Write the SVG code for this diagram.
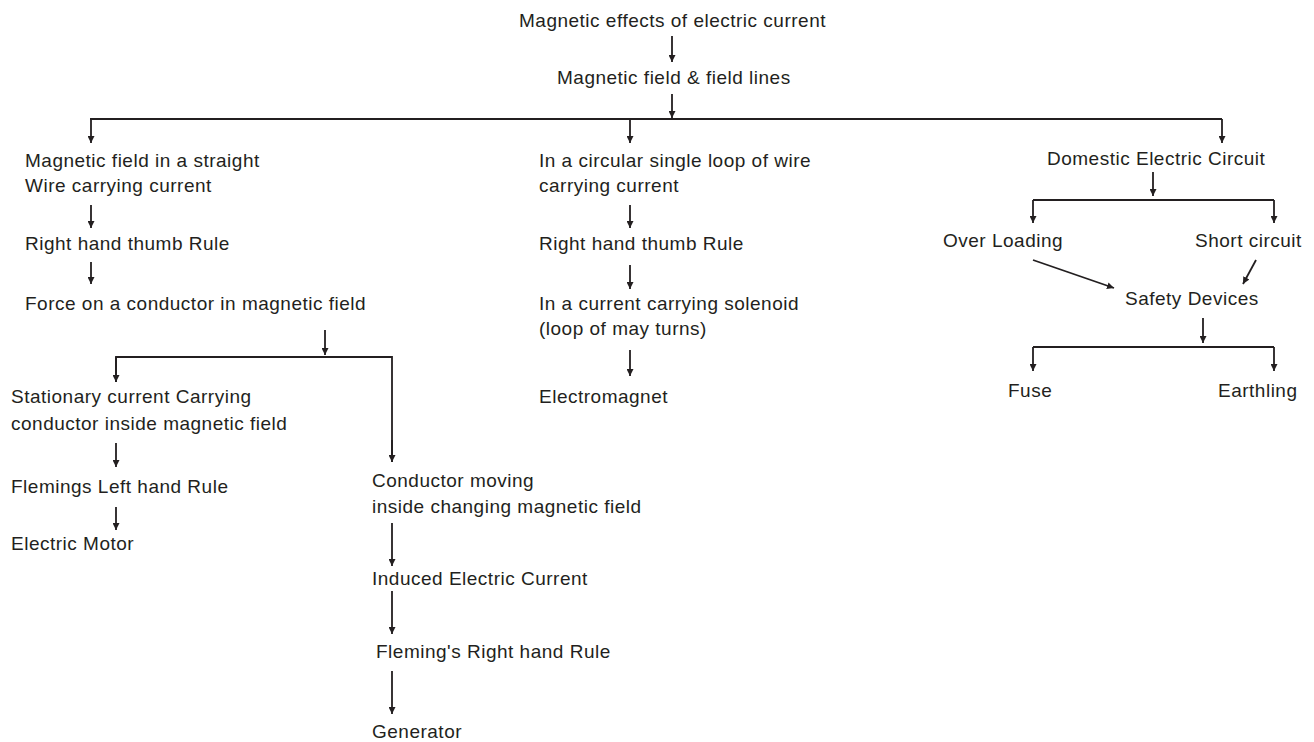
<svg xmlns="http://www.w3.org/2000/svg" width="1314" height="742" viewBox="0 0 1314 742">
<defs>
<style>
text{font-family:"Liberation Sans",Arial,sans-serif;font-size:19px;letter-spacing:0.5px;fill:#231f20}
.c line,.c path{stroke:#231f20;stroke-width:1.8;fill:none}
</style>
<marker id="ah" markerWidth="7" markerHeight="7" refX="7" refY="3.5" orient="auto" markerUnits="userSpaceOnUse">
<path d="M0,0 L7,3.5 L0,7 z" fill="#231f20"/>
</marker>
</defs>
<rect width="1314" height="742" fill="#ffffff"/>
<g class="c" id="connectors">
<line x1="672" y1="36" x2="672" y2="62" marker-end="url(#ah)"/>
<line x1="672" y1="94" x2="672" y2="118" marker-end="url(#ah)"/>
<line x1="90" y1="119" x2="1222" y2="119"/>
<line x1="91" y1="119" x2="91" y2="143" marker-end="url(#ah)"/>
<line x1="630" y1="119" x2="630" y2="143" marker-end="url(#ah)"/>
<line x1="1222" y1="119" x2="1222" y2="143" marker-end="url(#ah)"/>
<line x1="91" y1="205" x2="91" y2="228" marker-end="url(#ah)"/>
<line x1="91" y1="262" x2="91" y2="284" marker-end="url(#ah)"/>
<line x1="325" y1="330" x2="325" y2="355" marker-end="url(#ah)"/>
<path d="M116,382 V357 H392 V462" />
<line x1="116" y1="357" x2="116" y2="382" marker-end="url(#ah)"/>
<line x1="392" y1="440" x2="392" y2="462" marker-end="url(#ah)"/>
<line x1="116" y1="443" x2="116" y2="467" marker-end="url(#ah)"/>
<line x1="116" y1="507" x2="116" y2="530" marker-end="url(#ah)"/>
<line x1="392" y1="523" x2="392" y2="566" marker-end="url(#ah)"/>
<line x1="392" y1="591" x2="392" y2="634" marker-end="url(#ah)"/>
<line x1="392" y1="671" x2="392" y2="714" marker-end="url(#ah)"/>
<line x1="630" y1="205" x2="630" y2="228" marker-end="url(#ah)"/>
<line x1="630" y1="265" x2="630" y2="289" marker-end="url(#ah)"/>
<line x1="630" y1="350" x2="630" y2="376" marker-end="url(#ah)"/>
<line x1="1153" y1="172" x2="1153" y2="196" marker-end="url(#ah)"/>
<line x1="1033" y1="200" x2="1274" y2="200"/>
<line x1="1033" y1="200" x2="1033" y2="223" marker-end="url(#ah)"/>
<line x1="1274" y1="200" x2="1274" y2="223" marker-end="url(#ah)"/>
<line x1="1033" y1="260" x2="1114" y2="288" marker-end="url(#ah)"/>
<line x1="1256" y1="260" x2="1243" y2="284" marker-end="url(#ah)"/>
<line x1="1203" y1="318" x2="1203" y2="343" marker-end="url(#ah)"/>
<line x1="1033" y1="347" x2="1274" y2="347"/>
<line x1="1033" y1="347" x2="1033" y2="371" marker-end="url(#ah)"/>
<line x1="1274" y1="347" x2="1274" y2="371" marker-end="url(#ah)"/>
</g>
<g id="n-root"><text x="519" y="27">Magnetic effects of electric current</text></g>
<g id="n-field"><text x="557" y="84">Magnetic field &amp; field lines</text></g>
<g id="n-straight"><text x="25" y="167">Magnetic field in a straight</text><text x="25" y="192">Wire carrying current</text></g>
<g id="n-rhtr1"><text x="25" y="250">Right hand thumb Rule</text></g>
<g id="n-force"><text x="25" y="310">Force on a conductor in magnetic field</text></g>
<g id="n-stationary"><text x="11" y="403">Stationary current Carrying</text><text x="11" y="430">conductor inside magnetic field</text></g>
<g id="n-flhr"><text x="11" y="493">Flemings Left hand Rule</text></g>
<g id="n-motor"><text x="11" y="550">Electric Motor</text></g>
<g id="n-moving"><text x="372" y="487">Conductor moving</text><text x="372" y="513">inside changing magnetic field</text></g>
<g id="n-induced"><text x="372" y="585">Induced Electric Current</text></g>
<g id="n-frhr"><text x="376" y="658">Fleming's Right hand Rule</text></g>
<g id="n-generator"><text x="372" y="738">Generator</text></g>
<g id="n-loop"><text x="539" y="167">In a circular single loop of wire</text><text x="539" y="192">carrying current</text></g>
<g id="n-rhtr2"><text x="539" y="250">Right hand thumb Rule</text></g>
<g id="n-solenoid"><text x="539" y="310">In a current carrying solenoid</text><text x="539" y="335">(loop of may turns)</text></g>
<g id="n-electromagnet"><text x="539" y="403">Electromagnet</text></g>
<g id="n-domestic"><text x="1047" y="165">Domestic Electric Circuit</text></g>
<g id="n-overload"><text x="943" y="247">Over Loading</text></g>
<g id="n-short"><text x="1195" y="247">Short circuit</text></g>
<g id="n-safety"><text x="1125" y="305">Safety Devices</text></g>
<g id="n-fuse"><text x="1008" y="397">Fuse</text></g>
<g id="n-earth"><text x="1218" y="397">Earthling</text></g>
</svg>
